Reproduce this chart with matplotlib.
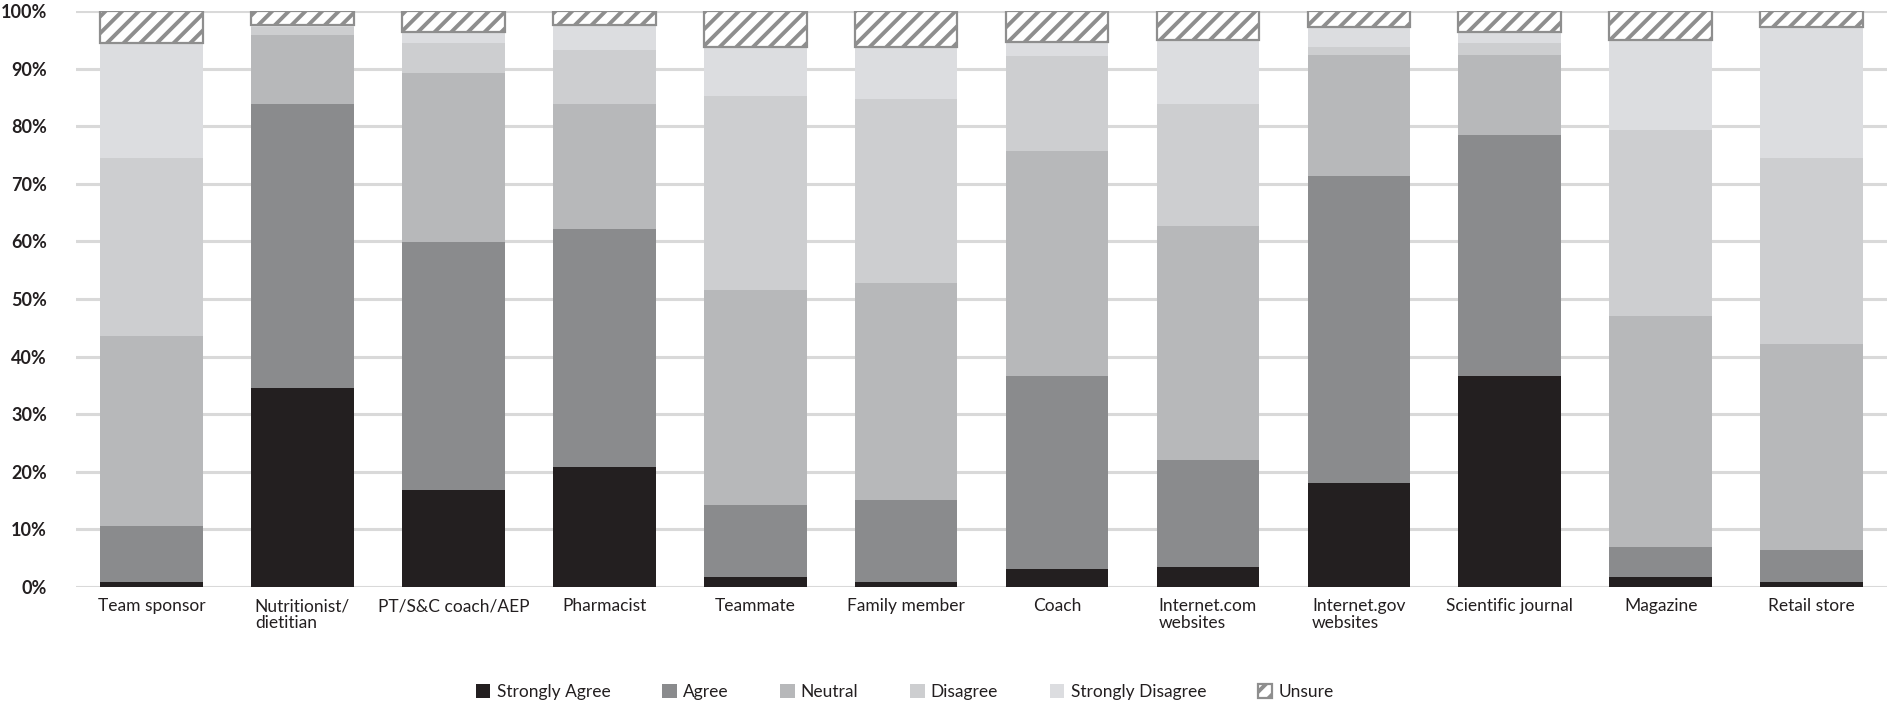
import matplotlib
matplotlib.use('Agg')
import matplotlib.pyplot as plt
import numpy as np

# data (percent of respondents)
categories = ['Team sponsor', 'Nutritionist/\ndietitian', 'PT/S&C coach/AEP', 'Pharmacist',
              'Teammate', 'Family member', 'Coach', 'Internet.com\nwebsites',
              'Internet.gov\nwebsites', 'Scientific journal', 'Magazine', 'Retail store']
strongly_agree = [0.9, 34.6, 16.8, 20.9, 1.8, 0.9, 3.1, 3.5, 18.1, 36.7, 1.8, 0.9]
agree = [9.7, 49.3, 43.1, 41.2, 12.4, 14.2, 33.6, 18.6, 53.3, 41.8, 5.2, 5.6]
neutral = [32.9, 11.9, 29.3, 21.8, 37.3, 37.7, 39.0, 40.5, 20.9, 13.8, 40.0, 35.6]
disagree = [30.9, 1.5, 5.2, 9.3, 33.7, 31.9, 16.5, 21.3, 1.4, 2.1, 32.3, 32.3]
strongly_disagree = [20.1, 0.3, 1.9, 4.4, 8.5, 9.0, 2.5, 11.1, 3.5, 1.9, 15.7, 22.8]
unsure = [5.5, 2.4, 3.7, 2.4, 6.3, 6.3, 5.3, 5.0, 2.8, 3.7, 5.0, 2.8]

series = [
    ('Strongly Agree', strongly_agree, '#231f20'),
    ('Agree', agree, '#8a8b8d'),
    ('Neutral', neutral, '#b7b8ba'),
    ('Disagree', disagree, '#cdced0'),
    ('Strongly Disagree', strongly_disagree, '#dcdde0'),
]

plt.rcParams['font.family'] = ['Lato', 'DejaVu Sans']
plt.rcParams['hatch.linewidth'] = 2.8
plt.rcParams['hatch.color'] = '#8e8e8e'

fig = plt.figure(figsize=(18.92, 7.04), dpi=100)
ax = fig.add_axes([0.0402, 0.1662, 0.9572, 0.8182])

x = np.arange(len(categories))
width = 0.68
bottom = np.zeros(len(categories))
for name, vals, col in series:
    ax.bar(x, vals, width, bottom=bottom, color=col, label=name, zorder=2)
    bottom += np.array(vals)
ax.bar(x, unsure, width, bottom=bottom, facecolor='white', edgecolor='#8e8e8e',
       linewidth=1.6, hatch='//', label='Unsure', zorder=2)

ax.set_xlim(-0.5, len(categories) - 0.5)
ax.set_ylim(0, 100)
ax.set_yticks(np.arange(0, 101, 10))
ax.set_yticklabels([f'{v}%' for v in range(0, 101, 10)], fontsize=13,
                   fontweight='bold', color='#231f20')
ax.set_xticks(x)
ax.set_xticklabels(categories, fontsize=12.5, color='#231f20',
                   multialignment='left', linespacing=1.1)
ax.tick_params(axis='both', length=0)
ax.tick_params(axis='y', pad=21)
ax.tick_params(axis='x', pad=8)
ax.grid(axis='y', color='#d9d9d9', linewidth=2.2, zorder=0)
ax.set_axisbelow(True)
for s in ax.spines.values():
    s.set_visible(False)

fig.legend(loc='center', bbox_to_anchor=(0.4783, 0.017), ncol=6, frameon=False,
           fontsize=12.5, handlelength=0.82, handleheight=0.9, handletextpad=0.35,
           columnspacing=3.0, borderpad=0, labelcolor='#231f20')

fig.savefig('out.png', dpi=100)
